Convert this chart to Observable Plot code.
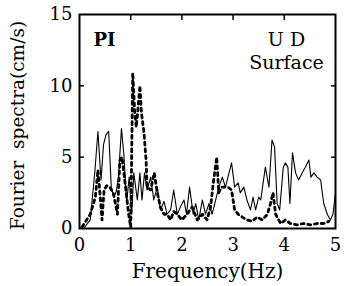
<!DOCTYPE html>
<html>
<head>
<meta charset="utf-8">
<script src="https://cdn.jsdelivr.net/npm/d3@7"></script>
<script src="https://cdn.jsdelivr.net/npm/@observablehq/plot@0.6"></script>
<style>
  html, body { margin: 0; padding: 0; background: #fff; }
</style>
</head>
<body>
<div id="chart"></div>
<script>
// Solid line (thin)
const solidFreq = [0.08,0.21,0.30,0.36,0.42,0.47,0.52,0.57,0.62,0.67,0.72,0.76,0.82,0.87,0.92,0.97,1.02,1.06,1.13,1.18,1.22,1.27,1.32,1.39,1.45,1.52,1.58,1.65,1.71,1.78,1.84,1.91,1.97,2.04,2.09,2.15,2.22,2.27,2.33,2.40,2.46,2.53,2.59,2.66,2.72,2.79,2.85,2.90,2.97,3.03,3.10,3.14,3.21,3.27,3.34,3.39,3.44,3.50,3.54,3.63,3.70,3.76,3.81,3.86,3.91,3.98,4.02,4.07,4.11,4.16,4.22,4.28,4.35,4.41,4.48,4.52,4.58,4.64,4.71,4.77,4.84,4.90,4.95,5.00];
const solidAmp  = [0.0,0.6,4.0,6.8,3.4,5.9,6.6,6.8,2.9,2.2,2.6,3.6,7.0,5.0,1.8,3.6,1.0,3.9,2.0,3.9,2.0,3.9,2.7,3.6,2.0,2.9,1.3,1.9,1.0,1.3,2.7,1.0,1.5,2.0,1.0,2.9,1.0,1.75,0.6,2.0,1.0,1.75,1.0,2.0,2.9,3.6,2.9,3.6,4.6,2.9,3.2,2.5,2.9,2.0,1.3,2.2,1.3,2.2,2.0,4.3,2.9,6.2,5.7,1.75,1.3,4.3,4.6,4.3,1.75,5.3,3.9,3.4,3.9,4.3,4.8,3.6,3.9,3.6,3.4,1.75,1.0,0.6,1.0,2.5];

// Dashed line (thick)
const dashFreq = [0.05,0.21,0.31,0.36,0.41,0.44,0.48,0.53,0.59,0.66,0.74,0.79,0.83,0.90,0.96,1.00,1.04,1.08,1.11,1.14,1.18,1.21,1.26,1.30,1.32,1.39,1.46,1.52,1.58,1.65,1.71,1.78,1.84,1.91,2.00,2.10,2.20,2.30,2.40,2.49,2.56,2.62,2.68,2.72,2.77,2.83,2.90,2.97,3.03,3.10,3.18,3.27,3.37,3.47,3.57,3.67,3.73,3.78,3.83,3.93,4.02,4.12,4.25,4.37,4.51,4.64,4.77,4.87];
const dashAmp  = [0.1,1.0,2.2,4.1,2.0,0.6,2.7,3.0,2.9,2.5,1.0,4.8,5.0,2.9,1.0,0.1,10.9,8.1,7.1,8.3,10.0,8.1,6.7,4.8,2.9,2.7,3.9,2.5,1.5,1.0,1.0,0.6,1.2,1.0,0.6,1.0,1.5,0.6,1.0,0.6,1.5,3.4,5.0,2.5,2.9,2.9,2.9,2.7,1.3,1.0,0.8,0.6,0.5,0.8,0.6,1.0,1.75,2.5,1.0,0.35,0.6,0.35,0.25,0.35,0.25,0.35,0.35,0.5];

const xTicks = [0,1,2,3,4,5];
const yTicks = [0,5,10,15];
const innerX = [1,2,3,4];
const innerY = [5,10];

const serif = "DejaVu Serif";

const chart = Plot.plot({
  width: 344,
  height: 286,
  marginLeft: 79,
  marginRight: 9,
  marginTop: 14,
  marginBottom: 58,
  style: { fontFamily: serif, background: "#fff", color: "#000" },
  x: { domain: [0, 5] },
  y: { domain: [0, 15] },
  marks: [
    Plot.line(solidFreq, { x: d => d, y: (d, i) => solidAmp[i], stroke: "#000", strokeWidth: 1.1 }),
    Plot.line(dashFreq, { x: d => d, y: (d, i) => dashAmp[i], stroke: "#000", strokeWidth: 2.8, strokeDasharray: "3,3.8" }),
    Plot.axisX({ ticks: xTicks, tickSize: 0, tickPadding: 10, tickFormat: d3.format("d"), fontSize: 18, label: null }),
    Plot.axisY({ ticks: yTicks, tickSize: 0, tickPadding: 7, tickFormat: d3.format("d"), fontSize: 18, label: null }),
    Plot.axisY({ anchor: "left", ticks: innerY, tickSize: -5, tickFormat: () => "", label: null, strokeWidth: 1.5 }),
    Plot.axisY({ anchor: "right", ticks: innerY, tickSize: -5, tickFormat: () => "", label: null, strokeWidth: 1.5 }),
    Plot.axisX({ anchor: "top", ticks: innerX, tickSize: -5, tickFormat: () => "", label: null, strokeWidth: 1.5 }),
    Plot.frame({ stroke: "#000", strokeWidth: 2 }),
    Plot.text(["Frequency(Hz)"], { text: d => d, frameAnchor: "bottom", lineAnchor: "bottom", dy: 49, fontSize: 20, fill: "#000" }),
    Plot.text(["Fourier  spectra(cm/s)"], { text: d => d, frameAnchor: "left", textAnchor: "middle", lineAnchor: "middle", rotate: -90, dx: -61, dy: 4, fontSize: 18.5, fill: "#000" }),
    Plot.text(["PI"], { text: d => d, frameAnchor: "top-left", textAnchor: "start", lineAnchor: "bottom", dx: 14, dy: 31, fontSize: 18, fontWeight: "bold", fill: "#000" }),
    Plot.text(["U D"], { text: d => d, frameAnchor: "top-right", textAnchor: "middle", lineAnchor: "bottom", dx: -49, dy: 31, fontSize: 19, fill: "#000" }),
    Plot.text(["Surface"], { text: d => d, frameAnchor: "top-right", textAnchor: "middle", lineAnchor: "bottom", dx: -49, dy: 54, fontSize: 19, fill: "#000" })
  ]
});
document.getElementById("chart").appendChild(chart);
</script>
</body>
</html>
